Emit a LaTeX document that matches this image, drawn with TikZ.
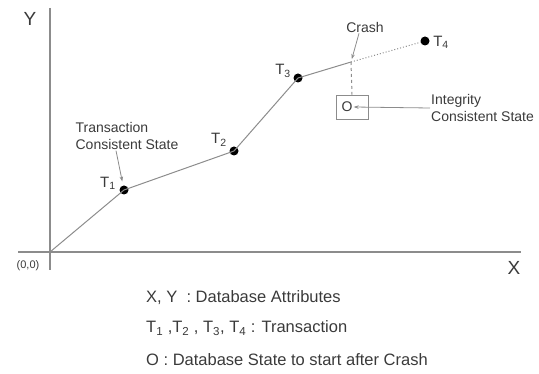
\documentclass[tikz,border=0pt]{standalone}
\usepackage{fontspec}
\setmainfont{Liberation Sans}
\usetikzlibrary{positioning,calc,arrows.meta}
\definecolor{linegray}{HTML}{8C8C8C}
\definecolor{textgray}{HTML}{3A3A3A}

\begin{document}
\begin{tikzpicture}[x=1pt, y=-1pt,
  dot/.style={circle, fill=black, inner sep=0pt, minimum size=9pt},
  pathline/.style={draw=linegray, line width=1pt},
  axis/.style={draw=linegray, line width=1.4pt},
  lbl/.style={font=\fontsize{14}{16.5}\selectfont, text=textgray, align=left, inner sep=1pt},
  tlbl/.style={font=\fontsize{15}{17}\selectfont, text=textgray, inner sep=0pt},
  axlbl/.style={font=\fontsize{19}{21}\selectfont, text=textgray, inner sep=0pt},
  legend/.style={font=\fontsize{16.5}{18}\selectfont, text=textgray, anchor=west, inner sep=0pt},
  arr/.style={-{Stealth[length=5pt, width=3.5pt]}, draw=linegray, line width=0.8pt}]
  \useasboundingbox (0,0) rectangle (539,374);
  % axes
  \coordinate (origin) at (50,252);
  \coordinate (ytop) at (50,8);
  \coordinate (ybot) at (50,270);
  \coordinate (xleft) at (18,252);
  \coordinate (xright) at (521,252);
  \draw[axis] (ytop) -- (ybot);
  \draw[axis] (xleft) -- (xright);
  \node[axlbl] (ylab) at (30,19) {Y};
  \node[axlbl] (xlab) at (514,268) {X};
  \node[font=\fontsize{11}{13}\selectfont, text=textgray] (zero) at (28,266) {(0,0)};
  % transactions
  \node[dot] (t1) at (124,190) {};
  \node[dot] (t2) at (234,151) {};
  \node[dot] (t3) at (298,78) {};
  \node[dot] (t4) at (425,41) {};
  \coordinate (crash) at (351,62);
  \draw[pathline] (origin) -- (t1.center) -- (t2.center) -- (t3.center) -- (crash);
  \draw[pathline, dotted] (crash) -- (t4);
  \node[tlbl] (t1lab) at (108,183) {T\textsubscript{1}};
  \node[tlbl] (t2lab) at (219,140) {T\textsubscript{2}};
  \node[tlbl] (t3lab) at (283,71) {T\textsubscript{3}};
  \node[tlbl] (t4lab) at (441,42) {T\textsubscript{4}};
  % recovered state
  \node[draw=linegray, line width=0.8pt, minimum width=32pt, minimum height=24pt] (state) at (352,107) {};
  \node[lbl] (o) at (347,107) {O};
  \draw[pathline, dashed] (crash) -- (state.north);
  % annotations
  \node[lbl] (crashlab) at (365,27) {Crash};
  \draw[arr, shorten >=3pt] ([xshift=-6pt]crashlab.south) -- (crash);
  \node[lbl, anchor=west] (intlab) at (430,108) {Integrity\\Consistent State};
  \draw[arr] (intlab.west) -- (o.east);
  \node[lbl] (tcslab) at (127,136) {Transaction\\Consistent State};
  \draw[arr, shorten >=4pt] ([xshift=-11pt]tcslab.south) -- (t1);
  % legend
  \node[legend] (leg1) at (146,298) {X, Y \ : Database Attributes};
  \node[legend] (leg2) at (146,328) {T\textsubscript{1} ,T\textsubscript{2} , T\textsubscript{3}, T\textsubscript{4} : Transaction};
  \node[legend] (leg3) at (146,360) {O : Database State to start after Crash};
\end{tikzpicture}
\end{document}
